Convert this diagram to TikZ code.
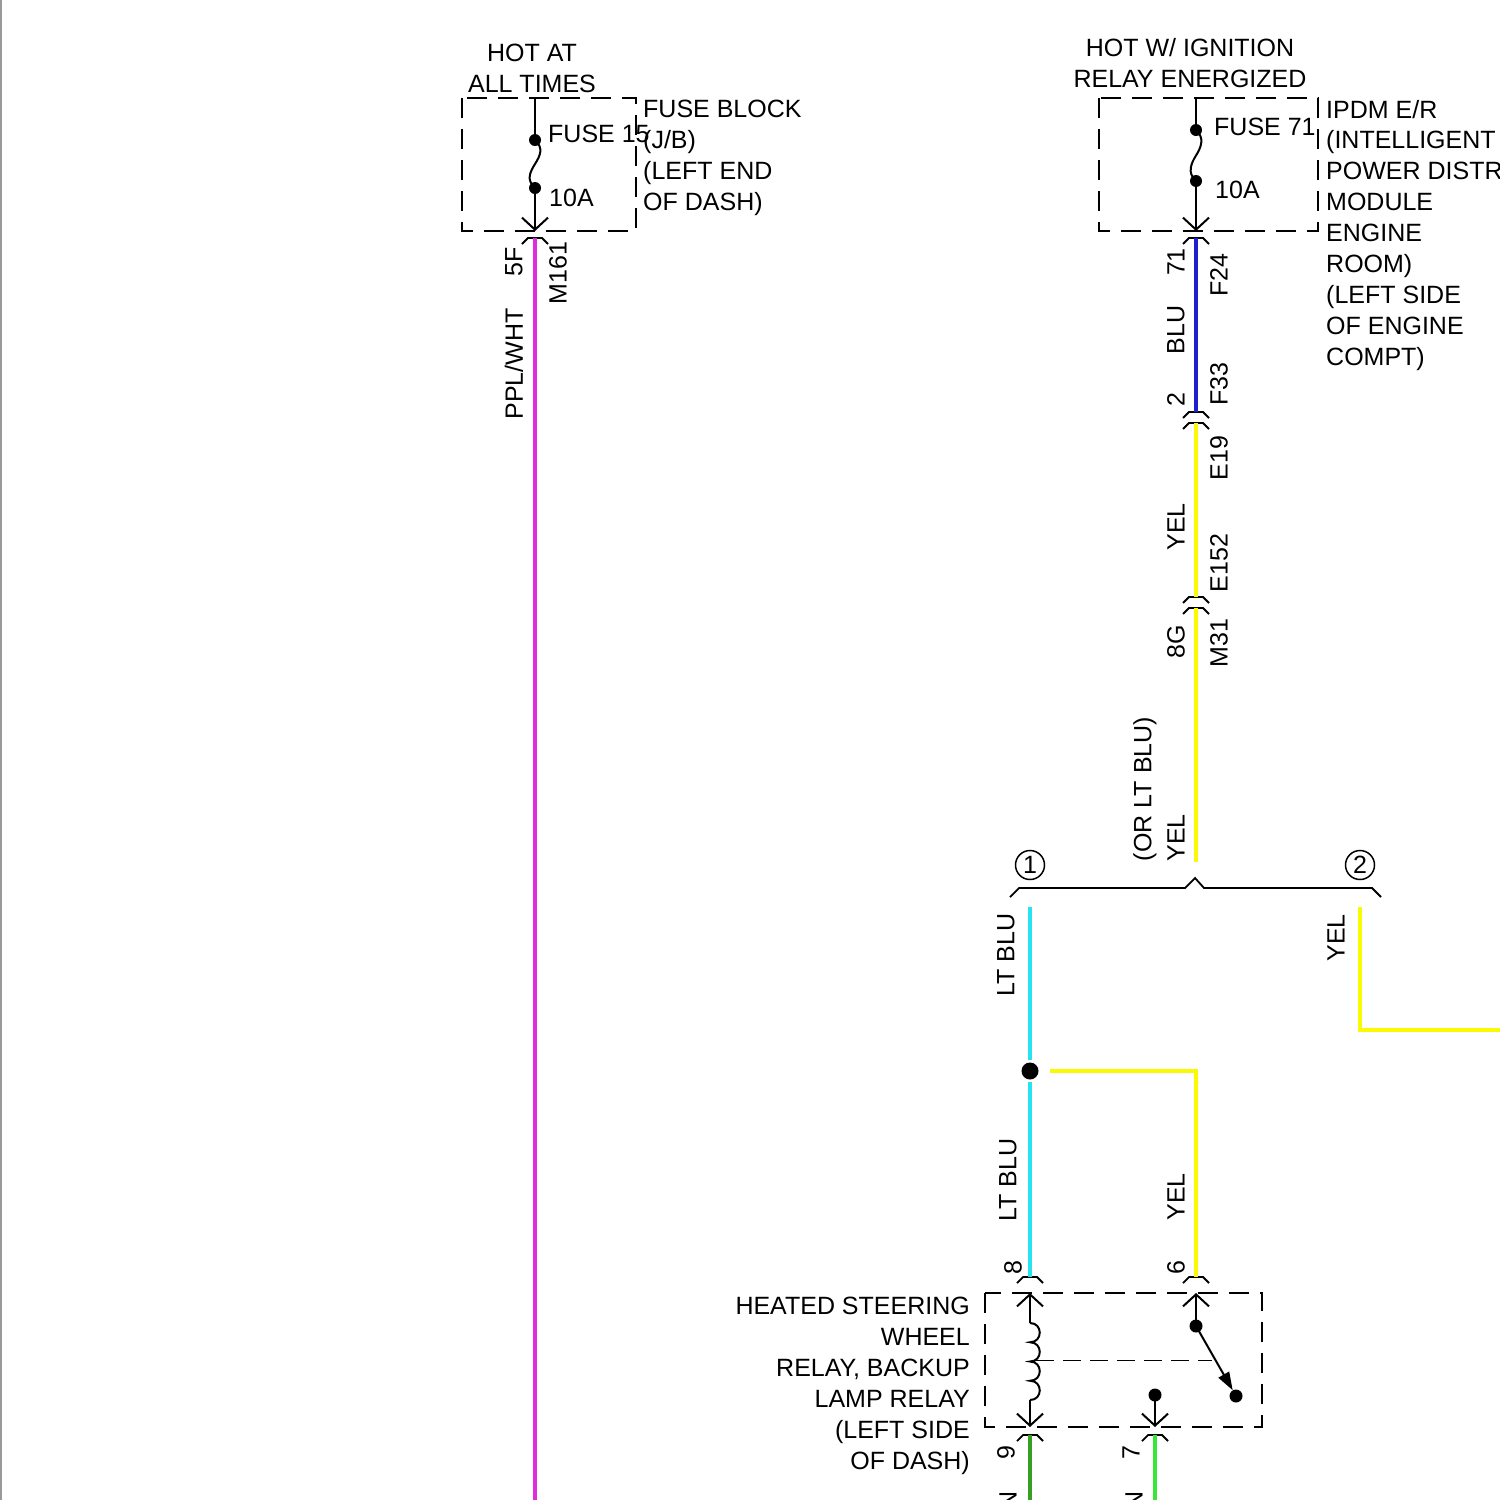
\documentclass[tikz,border=0pt]{standalone}
\usepackage{fontspec}
\setmainfont{Liberation Sans}
\usepackage{xcolor}
\usepackage{tikz}
\usetikzlibrary{arrows.meta,
                positioning}

\definecolor{wirepink}{RGB}{222,45,222}
\definecolor{wireblue}{RGB}{30,30,205}
\definecolor{wireyel}{RGB}{250,250,0}
\definecolor{wireltblu}{RGB}{35,228,240}
\definecolor{wiregrn}{RGB}{55,160,35}
\definecolor{wireltgrn}{RGB}{55,230,55}

\tikzset{
  txt/.style={font=\fontsize{25}{31}\selectfont, inner sep=0pt},
  vtxt/.style={txt, rotate=90},
  wire/.style={line width=4.5pt},
  thinline/.style={line width=2pt},
  dashbox/.style={line width=2pt, dash pattern=on 20pt off 11pt},
  linkline/.style={line width=1pt, dash pattern=on 18pt off 9pt},
  dot/.style={circle, fill=black, inner sep=0pt, minimum size=12pt},
  vhead/.style={-{Straight Barb[length=12pt,width=26pt]}},
  conn/.pic={\draw[line width=1.8pt] (-13,6) -- (-7,0) -- (7,0) -- (13,6);}
}

\begin{document}
\begin{tikzpicture}[x=1pt,y=-1pt]
\useasboundingbox (0,0) rectangle (1500,1500);
\clip (0,0) rectangle (1500,1500);
\draw[gray!80, line width=2pt] (1,0) -- (1,1500);

% supply headers
\node[txt, anchor=base] (hot1) at (532,61) {HOT AT};
\node[txt, anchor=base] (hot2) at (532,92) {ALL TIMES};
\node[txt, anchor=base] (ign1) at (1190,56) {HOT W/ IGNITION};
\node[txt, anchor=base] (ign2) at (1190,87) {RELAY ENERGIZED};

% fuse boxes
\draw[dashbox] (462,98) rectangle (636,231);
\draw[dashbox] (1099,98) rectangle (1318,231);
\foreach \n/\x/\a/\b in {lf/535/140/188, rf/1196/130/181}{
  \coordinate (\n-in) at (\x,98);
  \coordinate (\n-out) at (\x,231);
  \node[dot] (\n-a) at (\x,\a) {};
  \node[dot] (\n-b) at (\x,\b) {};
  \draw[thinline] (\n-in) -- (\n-a.center);
  \draw[thinline] (\n-a.center) .. controls +(9,8) and +(5,-8) .. ({\x},{(\a+\b)/2})
                  .. controls +(-5,8) and +(-9,-8) .. (\n-b.center);
  \draw[thinline, vhead] (\n-b.center) -- (\n-out);
}
\node[txt, anchor=base west] (f15) at (548,142) {FUSE 15};
\node[txt, anchor=base west] (f15a) at (549,206) {10A};
\node[txt, anchor=base west] (f71) at (1214,135) {FUSE 71};
\node[txt, anchor=base west] (f71a) at (1215,198) {10A};

\foreach \t [count=\i] in {FUSE BLOCK, (J/B), {(LEFT END}, OF DASH)}
  \node[txt, anchor=base west] (fb\i) at (643,86+31*\i) {\t};
\foreach \t [count=\i] in {IPDM E/R, {(INTELLIGENT}, POWER DISTR, MODULE, ENGINE,
                           ROOM), {(LEFT SIDE}, OF ENGINE, COMPT)}
  \node[txt, anchor=base west] (ipdm\i) at (1326,87.1+30.9*\i) {\t};

% connectors
\foreach \x/\y in {535/238, 1196/238, 1196/412, 1196/423, 1196/597, 1196/608,
                   1030/1277, 1196/1277, 1030/1435, 1155/1435}
  \pic at (\x,\y) {conn};

% wires
\coordinate (pk-top) at (535,238);  \coordinate (pk-bot) at (535,1500);
\draw[wire, wirepink] (pk-top) -- (pk-bot);
\coordinate (bl-top) at (1196,238); \coordinate (bl-bot) at (1196,412);
\draw[wire, wireblue] (bl-top) -- (bl-bot);
\coordinate (y1-top) at (1196,423); \coordinate (y1-bot) at (1196,597);
\draw[wire, wireyel] (y1-top) -- (y1-bot);
\coordinate (y2-top) at (1196,608); \coordinate (y2-bot) at (1196,862);
\draw[wire, wireyel] (y2-top) -- (y2-bot);

% branch
\draw[line width=1.8pt] (1010,897) -- (1019,888) -- (1185,888) -- (1195,878)
  -- (1204,888) -- (1372,888) -- (1381,897);
\node[txt, circle, draw, line width=1.5pt, minimum size=29pt] (opt1) at (1030,865) {1};
\node[txt, circle, draw, line width=1.5pt, minimum size=29pt] (opt2) at (1360,865) {2};

\node[dot, minimum size=17pt] (splice) at (1030,1071) {};
\coordinate (lb1-top) at (1030,907);
\coordinate (lb2-bot) at (1030,1277);
\coordinate (ys-bend) at (1196,1071);
\coordinate (ys-bot) at (1196,1277);
\coordinate (y3-top) at (1360,907);
\coordinate (y3-bend) at (1360,1030);
\coordinate (y3-end) at (1500,1030);
\draw[wire, wireltblu, shorten >=11pt] (lb1-top) -- (splice.center);
\draw[wire, wireltblu, shorten <=11pt] (splice.center) -- (lb2-bot);
\draw[wire, wireyel, shorten <=20pt] (splice.center) -- (ys-bend) -- (ys-bot);
\draw[wire, wireyel] (y3-top) -- (y3-bend) -- (y3-end);

% relay
\draw[dashbox] (985,1293) rectangle (1262,1427);
\coordinate (coil-in) at (1030,1293);
\coordinate (coil-a) at (1030,1323);
\coordinate (coil-b) at (1030,1400);
\coordinate (coil-out) at (1030,1427);
\draw[thinline, vhead] (coil-a) -- (coil-in);
\draw[thinline, vhead] (coil-b) -- (coil-out);
\draw[thinline] (coil-a)
  \foreach \k in {0,1,2,3}{ .. controls +(13,0) and +(13,0) .. (1030,{1323+19.25*(\k+1)}) };
\coordinate (link-a) at (1036,1360);
\coordinate (link-b) at (1212,1360);
\draw[linkline] (link-a) -- (link-b);

\node[dot, minimum size=13pt] (sw-com) at (1196,1326) {};
\node[dot, minimum size=13pt] (sw-no) at (1236,1396) {};
\node[dot, minimum size=13pt] (sw-nc) at (1155,1395) {};
\coordinate (sw-in) at (1196,1293);
\coordinate (sw-out) at (1155,1427);
\draw[thinline, vhead] (sw-com.center) -- (sw-in);
\draw[thinline, -{Triangle[length=18pt,width=12pt]}] (sw-com.center) -- (sw-no);
\draw[thinline, vhead] (sw-nc.center) -- (sw-out);

\foreach \t [count=\i] in {HEATED STEERING, WHEEL, {RELAY, BACKUP}, LAMP RELAY,
                           {(LEFT SIDE}, OF DASH)}
  \node[txt, anchor=base east] (rly\i) at (970,1283+31*\i) {\t};

\coordinate (g9-top) at (1030,1435); \coordinate (g9-bot) at (1030,1500);
\draw[wire, wiregrn] (g9-top) -- (g9-bot);
\coordinate (g7-top) at (1155,1435); \coordinate (g7-bot) at (1155,1500);
\draw[wire, wireltgrn] (g7-top) -- (g7-bot);

% wire and pin labels
\foreach \x/\y/\t [count=\i] in {514/262/5F, 558/273/M161, 514/364/{PPL/WHT},
    1176/262/71, 1219/275/F24, 1176/330/BLU, 1219/384/F33, 1176/400/2,
    1219/458/E19, 1176/527/YEL, 1219/563/E152, 1176/642/8G, 1219/643/M31,
    1145/789/{(OR LT BLU)}, 1176/838/YEL, 1006/955/LT BLU, 1336/938/YEL,
    1008/1180/LT BLU, 1176/1197/YEL, 1013/1268/8, 1176/1268/6,
    1006/1453/9, 1131/1453/7}
  \node[vtxt] (lab\i) at (\x,\y) {\t};
\node[vtxt, anchor=east] (lab-g9) at (1008,1491) {GRN};
\node[vtxt, anchor=east] (lab-g7) at (1134,1491) {LT GRN};
\end{tikzpicture}
\end{document}
